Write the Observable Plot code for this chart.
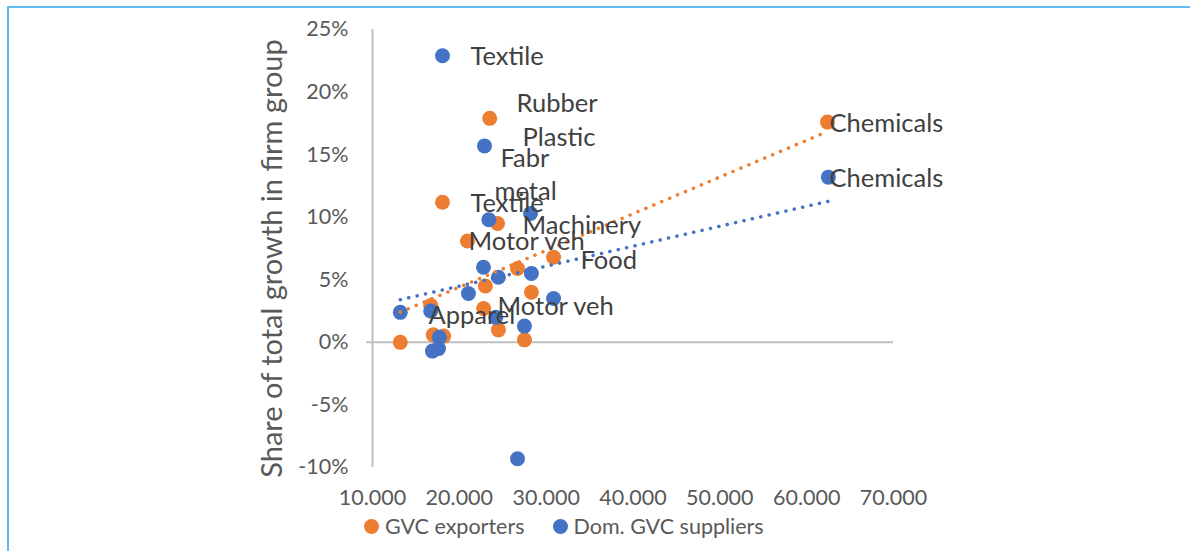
<!DOCTYPE html>
<html><head><meta charset="utf-8">
<script src="https://cdn.jsdelivr.net/npm/d3@7"></script>
<script src="https://cdn.jsdelivr.net/npm/@observablehq/plot@0.6"></script>
<style>
body{margin:0;background:#fff;font-family:Lato,sans-serif;}
#wrap{position:relative;width:1190px;height:551px;overflow:hidden;}
#frame{position:absolute;left:7px;top:6px;width:1300px;height:700px;border-left:2px solid #5bbfe9;border-top:2px solid #5bbfe9;}
#chart{position:absolute;left:0;top:0;}
#legend{position:absolute;top:513px;left:364px;display:flex;align-items:center;font-size:21.5px;color:#595959;white-space:nowrap;}
.sw{display:inline-block;width:15px;height:15px;border-radius:50%;margin-right:6px;}
.item{display:flex;align-items:center;margin-right:28px;}
</style>
</head><body>
<div id="wrap"><div id="frame"></div><div id="chart"></div><div id="legend"></div></div>
<script>
// ---- data ----
const seriesNames = ["GVC exporters", "Dom. GVC suppliers"];
const seriesColors = ["#ED7D31", "#4472C4"];

const exportersX = [23500, 62400, 18060, 24400, 20940, 30850, 26700, 23000, 28300, 22800, 16700, 24500, 27500, 13200, 18200, 17000];
const exportersY = [17.9, 17.6, 11.2, 9.5, 8.1, 6.8, 5.9, 4.5, 4.0, 2.7, 2.95, 1.0, 0.2, 0.0, 0.5, 0.6];

const suppliersX = [18060, 22900, 23400, 28200, 22780, 24500, 28300, 21050, 13200, 30850, 24200, 27500, 17700, 16900, 17600, 26700, 62500, 16700];
const suppliersY = [22.9, 15.7, 9.8, 10.3, 6.0, 5.2, 5.5, 3.9, 2.4, 3.5, 2.0, 1.3, 0.4, -0.7, -0.5, -9.3, 13.2, 2.5];

const labelText = ["Textile", "Rubber", "Plastic", "Fabr", "metal", "Textile", "Machinery", "Motor veh", "Food", "Motor veh", "Apparel", "Chemicals", "Chemicals"];
const labelX = [21290, 26585, 27275, 24740, 24050, 21290, 27275, 21055, 33955, 24400, 16450, 62630, 62630];
const labelY = [22.8, 19.1, 16.35, 14.7, 12.0, 11.1, 9.3, 8.0, 6.5, 2.8, 2.1, 17.5, 13.1];

const xTicks = [10000, 20000, 30000, 40000, 50000, 60000, 70000];
const yTicks = [-10, -5, 0, 5, 10, 15, 20, 25];
const yTitle = "Share of total growth in firm group";

// ---- build ----
const exporters = exportersX.map((x, i) => ({x, y: exportersY[i]}));
const suppliers = suppliersX.map((x, i) => ({x, y: suppliersY[i]}));
const labels = labelText.map((t, i) => ({t, x: labelX[i], y: labelY[i]}));
const fmtX = d => d3.format(",")(d).replace(/,/g, ".");

const plot = Plot.plot({
  width: 1190, height: 551,
  marginLeft: 372, marginRight: 297, marginTop: 29, marginBottom: 84,
  x: {domain: [10000, 70000]},
  y: {domain: [-10, 25]},
  style: {fontFamily: "Lato, sans-serif", background: "transparent"},
  marks: [
    Plot.ruleX([10000], {y1: -10, y2: 25, stroke: "#bfbfbf", strokeWidth: 2}),
    Plot.ruleY([0], {x1: 10000, x2: 70000, stroke: "#bfbfbf", strokeWidth: 2, insetLeft: -6}),
    Plot.axisX(xTicks, {tickSize: 0, tickPadding: 22, tickFormat: fmtX, fontSize: 21.5, fill: "#595959", label: null}),
    Plot.axisY(yTicks, {tickSize: 0, tickPadding: 24, tickFormat: d => d + "%", fontSize: 21.5, fill: "#595959", label: null}),
    Plot.text([yTitle], {frameAnchor: "left", textAnchor: "middle", rotate: -90, dx: -100, dy: 10, fontSize: 29, fill: "#595959"}),
    Plot.dot(exporters, {x: "x", y: "y", r: 7.5, fill: seriesColors[0]}),
    Plot.dot(suppliers, {x: "x", y: "y", r: 7.5, fill: seriesColors[1]}),
    Plot.linearRegressionY(exporters, {x: "x", y: "y", stroke: seriesColors[0], strokeWidth: 3.5, strokeDasharray: "0.1 8.5", strokeLinecap: "round", ci: 0}),
    Plot.linearRegressionY(suppliers, {x: "x", y: "y", stroke: seriesColors[1], strokeWidth: 3.5, strokeDasharray: "0.1 8.5", strokeLinecap: "round", ci: 0}),
    Plot.text(labels, {x: "x", y: "y", text: "t", textAnchor: "start", fontSize: 25.5, fill: "#404040"})
  ]
});
document.getElementById("chart").appendChild(plot);

const legend = document.getElementById("legend");
seriesNames.forEach((n, i) => {
  const it = document.createElement("span");
  it.className = "item";
  it.innerHTML = `<span class="sw" style="background:${seriesColors[i]}"></span>${n}`;
  legend.appendChild(it);
});
</script>
</body></html>
